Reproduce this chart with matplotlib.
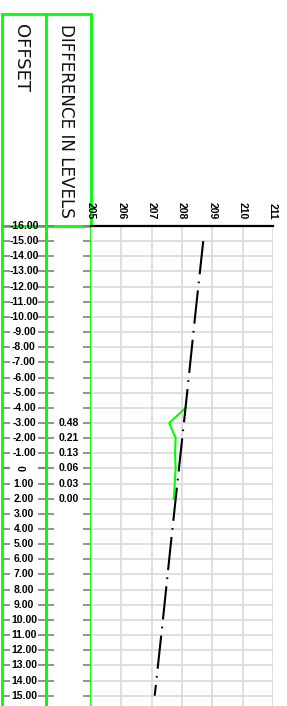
import matplotlib.pyplot as plt

W, H = 287, 706

# data
offsets = list(range(-16, 16))
offset_labels = ['%.2f' % o if o != 0 else '0' for o in offsets]
level_ticks = [205, 206, 207, 208, 209, 210, 211]

ground_offsets = [-15, -10, -5, 0, 5, 10, 15]
ground_levels = [208.70, 208.43, 208.17, 207.90, 207.63, 207.37, 207.10]

design_offsets = [-4, -3, -2, -1, 0, 1, 2]
design_levels = [208.12, 207.58, 207.79, 207.77, 207.79, 207.76, 207.73]

diff_offsets = [-3, -2, -1, 0, 1, 2]
diff_labels = ['0.48', '0.21', '0.13', '0.06', '0.03', '0.00']

green = '#00ff00'
tick_gray = '#808080'
grid_gray = '#dcdcdc'
lab_font = ['Liberation Sans', 'DejaVu Sans']

fig = plt.figure(figsize=(W / 100, H / 100), dpi=100)


def box(x0, x1, y0, y1):
    return [x0 / W, 1 - y1 / H, (x1 - x0) / W, (y1 - y0) / H]


ylim = (15.68, -16)

# header boxes
for x0, x1, title, fs in [(2, 46, 'OFFSET', 13), (46, 91, 'DIFFERENCE IN LEVELS', 12.1)]:
    hx = fig.add_axes(box(x0, x1, 14, 226))
    hx.set_xticks([])
    hx.set_yticks([])
    for s in hx.spines.values():
        s.set_color(green)
        s.set_linewidth(2)
    hx.text(0.44, 0.955, title, rotation=-90, ha='center', va='top',
            transform=hx.transAxes, fontsize=fs, family='DejaVu Sans',
            color='#111111')

# offset column
ax_off = fig.add_axes(box(2, 46, 226, 706))
ax_diff = fig.add_axes(box(46, 91, 226, 706))
for a in (ax_off, ax_diff):
    a.set_ylim(*ylim)
    a.set_xlim(0, 1)
    a.set_xticks([])
    a.set_yticks(offsets)
    a.tick_params(axis='y', direction='in', left=True, right=True, length=5.5,
                  width=1.2, color=tick_gray, labelleft=False)
    for side in ('left', 'right'):
        a.spines[side].set_color(green)
        a.spines[side].set_linewidth(2)
    for side in ('top', 'bottom'):
        a.spines[side].set_visible(False)
    a.patch.set_alpha(0)

for t, o in zip(ax_off.yaxis.get_major_ticks(), offsets):
    if o == 0:
        t.tick1line.set_color('black')
        t.tick2line.set_color('black')
        t.tick1line.set_markeredgewidth(1.6)
        t.tick2line.set_markeredgewidth(1.6)

for o, lab in zip(offsets, offset_labels):
    if o == 0:
        ax_off.text(0.5, o, lab, rotation=90, ha='center', va='center',
                    fontsize=7.5, fontweight='bold', family=lab_font)
    else:
        ax_off.text(0.5, o, lab, ha='center', va='center',
                    fontsize=7.5, fontweight='bold', family=lab_font)

for o, lab in zip(diff_offsets, diff_labels):
    ax_diff.text(0.5, o, lab, ha='center', va='center',
                 fontsize=7.5, fontweight='bold', family=lab_font)

# main section
ax = fig.add_axes(box(91, 273, 226, 706))
ax.set_xlim(205, 211)
ax.set_ylim(*ylim)
ax.set_yticks(offsets)
ax.set_xticks(level_ticks)
ax.grid(True, color=grid_gray, lw=1.3)
ax.tick_params(axis='y', left=False, labelleft=False)
ax.tick_params(axis='x', bottom=False, labelbottom=False, top=False,
               labeltop=True, pad=1)
for lab in ax.get_xticklabels():
    lab.set_rotation(-90)
    lab.set_fontsize(7.5)
    lab.set_fontweight('bold')
    lab.set_family(lab_font)
    lab.set_va('bottom')
    lab.set_ha('center')
for side in ('left', 'right', 'bottom'):
    ax.spines[side].set_visible(False)
ax.spines['top'].set_linewidth(1.6)
ax.spines['top'].set_color('black')

ax.plot(design_levels, design_offsets, color=green, lw=1.5, zorder=3)
ax.plot(ground_levels, ground_offsets, color='black', lw=1.5,
        linestyle=(0, (16, 3.5, 0.8, 3.5)), zorder=4)

fig.savefig('out.png', dpi=100)
